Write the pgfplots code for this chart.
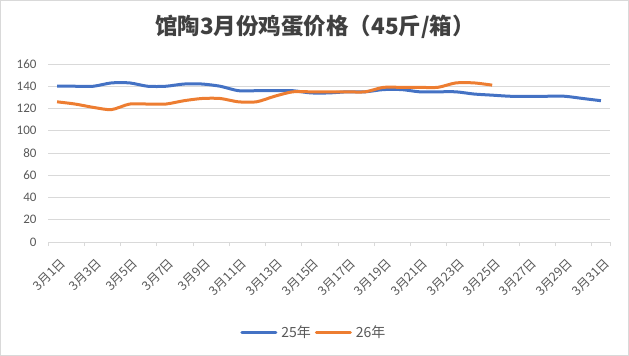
\documentclass[border=0pt]{standalone}
\usepackage{pgfplots}
\pgfplotsset{compat=1.18}
\usepackage{fontspec}
\setmainfont{Carlito}
\newfontfamily\cjk{Noto Sans CJK SC}
\definecolor{ser1}{HTML}{4472C4}
\definecolor{ser2}{HTML}{ED7D31}
\definecolor{txt}{HTML}{595959}
\definecolor{grd}{HTML}{D9D9D9}
\begin{document}
\begin{tikzpicture}
\path[use as bounding box] (0,0) rectangle (629bp,356bp);
\draw[grd, line width=0.8bp] (0.5bp,0.5bp) rectangle (628.5bp,355.5bp);
\node[font=\cjk\fontsize{22.5bp}{25bp}\selectfont\bfseries, text=black!75] at (315bp,329bp) {馆陶3月份鸡蛋价格（45斤/箱）};
\begin{axis}[
  at={(48bp,114bp)}, anchor=south west,
  width=562bp, height=178bp, scale only axis,
  xmin=0.5, xmax=31.5, ymin=0, ymax=160,
  ytick={0,20,...,160},
  xtick={1,3,...,31},
  xticklabels={3月1日,3月3日,3月5日,3月7日,3月9日,3月11日,3月13日,3月15日,3月17日,3月19日,3月21日,3月23日,3月25日,3月27日,3月29日,3月31日},
  minor xtick={0.5,2.5,...,30.5,31.5},
  xtick pos=bottom, ytick pos=left,
  tick align=outside,
  major tick length=0pt, minor tick length=4bp,
  every minor tick/.append style={grd, line width=0.8bp},
  ytick style={draw=none},
  ymajorgrids, grid style={grd, line width=0.8bp},
  axis x line*=bottom, axis y line*=left,
  x axis line style={grd, line width=0.8bp, -},
  y axis line style={draw=none, -},
  x tick label style={font=\cjk\fontsize{12.5bp}{14bp}\selectfont, text=txt, xshift=2bp, yshift=-15bp, rotate=45, anchor=north east, inner sep=0bp},
  y tick label style={font=\fontsize{13bp}{15bp}\selectfont, text=txt, xshift=-8bp},
  /pgf/number format/assume math mode=true,
  legend style={at={(0.473,-0.506)}, anchor=center, draw=none, legend columns=2, font=\cjk\fontsize{14bp}{16bp}\selectfont, text=txt, column sep=2bp, inner sep=0bp},
  legend image code/.code={\draw[#1, line width=3bp, line cap=round] (0bp,0bp) -- (34bp,0bp);},
  every axis plot/.append style={line width=3bp, smooth, tension=0.45, line join=round},
  clip=false,
]
\addplot[ser1, no markers] coordinates {
(1,140)(2,140)(3,140)(4,143)(5,143)(6,140)(7,140)(8,142)(9,142)(10,140)
(11,136)(12,136)(13,136)(14,136)(15,134)(16,134)(17,135)(18,135)(19,137)(20,137)
(21,135)(22,135)(23,135)(24,133)(25,132)(26,131)(27,131)(28,131)(29,131)(30,129)(31,127)};
\addlegendentry{25年}
\addplot[ser2, no markers] coordinates {
(1,126)(2,124)(3,121)(4,119)(5,124)(6,124)(7,124)(8,127)(9,129)(10,129)
(11,126)(12,126)(13,131)(14,135)(15,135)(16,135)(17,135)(18,135)(19,139)(20,139)
(21,139)(22,139)(23,143)(24,143)(25,141)};
\addlegendentry{26年}
\end{axis}
\end{tikzpicture}
\end{document}
